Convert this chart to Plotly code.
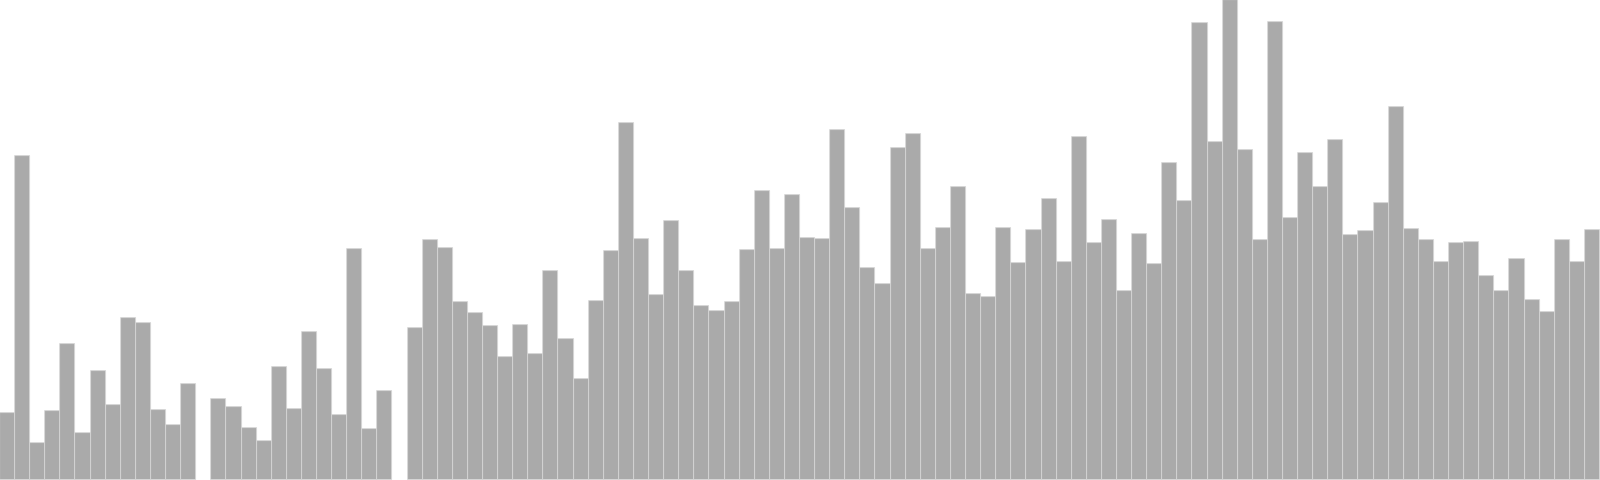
import plotly.graph_objects as go

categories = list(range(1, 107))
values = [
    67.3, 324, 37.3, 68.7, 136, 46.7, 108.7, 74.7, 161.7, 157,
    70, 55.3, 96, None, 80.7, 72.7, 51.7, 38.7, 113.3, 71.3,
    147.7, 110.7, 65.3, 230.7, 51.3, 89, None, 152.3, 240, 231.7,
    177.7, 167.3, 154, 122.7, 155.3, 125.7, 209, 141, 101, 179,
    228.7, 357, 241, 185, 258.7, 208.7, 173.7, 168.7, 178.3, 230.3,
    289.3, 230.7, 285, 241.7, 240.7, 349.7, 271.7, 211.7, 196, 332.3,
    345.7, 231, 252, 292.7, 185.7, 183.3, 251.7, 216.7, 250, 281,
    217.7, 343, 237.3, 259.7, 188.7, 246.3, 216, 316.7, 279.3, 457.3,
    338.3, 480, 330, 240, 457.7, 262, 326.7, 292.7, 340.3, 245,
    248.7, 276.7, 373, 250.7, 239.7, 218.3, 237.3, 237.7, 203.7, 189,
    221, 179.7, 167.7, 240, 218, 250,
]

fig = go.Figure(go.Bar(
    x=categories,
    y=values,
    marker=dict(color="#aaaaaa", line=dict(color="#d6d6d6", width=0.8)),
    hoverinfo="skip",
))
fig.update_layout(
    width=1600, height=480,
    margin=dict(l=0, r=0, t=0, b=0),
    paper_bgcolor="white", plot_bgcolor="white",
    bargap=0, showlegend=False,
    xaxis=dict(visible=False, range=[0.5, 106.5]),
    yaxis=dict(visible=False, range=[0, max(v for v in values if v is not None)]),
)
fig.write_html(
    "out.html",
    config={"displayModeBar": False},
    post_script="document.body.style.margin='0';document.body.style.overflow='hidden';",
)
